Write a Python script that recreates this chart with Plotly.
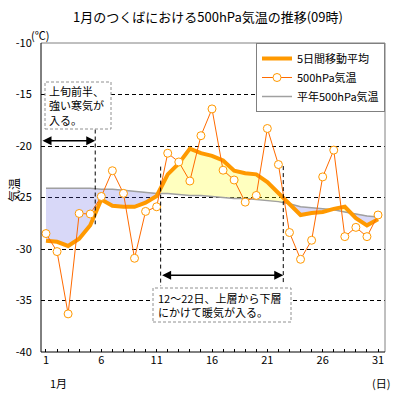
import numpy as np
import plotly.graph_objects as go

days = list(range(1, 32))
temp_500 = [-28.5, -30.25, -36.3, -26.55, -26.6, -24.9, -22.4, -24.6, -30.9, -26.35,
            -25.9, -20.7, -21.55, -23.4, -19.0, -16.4, -22.35, -23.3, -25.45, -24.8,
            -18.3, -21.8, -28.4, -31.0, -29.15, -23.0, -20.4, -28.8, -27.9, -28.8, -26.7]
ma5 = [-29.2, -29.3, -29.7, -29.0, -27.7, -25.2, -25.8, -25.9, -25.9, -25.5,
       -24.85, -22.75, -21.7, -20.25, -20.7, -20.95, -21.4, -22.4, -22.65, -22.75,
       -23.5, -24.6, -25.7, -26.7, -26.5, -26.4, -26.1, -25.9, -27.0, -27.7, -27.1]
normal = [-24.1, -24.1, -24.1, -24.1, -24.1, -24.2, -24.2, -24.3, -24.4, -24.5,
          -24.6, -24.6, -24.7, -24.8, -24.8, -24.9, -25.0, -25.1, -25.1, -25.2,
          -25.3, -25.4, -25.6, -25.9, -26.0, -26.1, -26.2, -26.4, -26.6, -26.8, -26.9]
y_ticks = [-40, -35, -30, -25, -20, -15, -10]
x_label_days = [1, 6, 11, 16, 21, 26, 31]

FONT = "Noto Sans CJK JP"
W, H = 400, 400
ML, MR, MT, MB = 41, 15, 43, 48
XR = [0.55, 31.63]
YR = [-40, -10]
PW, PH = W - ML - MR, H - MT - MB


def px_x(p):
    return (p - ML) / PW


def px_y(p):
    return (H - MB - p) / PH


fig = go.Figure()

# dense interpolation for the fills between the moving average and normal
xd = np.linspace(1, 31, 3001)
ma_d = np.interp(xd, days, ma5)
nm_d = np.interp(xd, days, normal)
upper = np.maximum(ma_d, nm_d)
lower = np.minimum(ma_d, nm_d)

fig.add_trace(go.Scatter(x=xd, y=nm_d, mode="lines", line=dict(width=0),
                         showlegend=False, hoverinfo="skip"))
fig.add_trace(go.Scatter(x=xd, y=upper, mode="lines", line=dict(width=0),
                         fill="tonexty", fillcolor="rgba(255,255,0,0.25)",
                         showlegend=False, hoverinfo="skip"))
fig.add_trace(go.Scatter(x=xd, y=nm_d, mode="lines", line=dict(width=0),
                         showlegend=False, hoverinfo="skip"))
fig.add_trace(go.Scatter(x=xd, y=lower, mode="lines", line=dict(width=0),
                         fill="tonexty", fillcolor="rgba(99,99,227,0.25)",
                         showlegend=False, hoverinfo="skip"))

fig.add_trace(go.Scatter(x=days, y=normal, mode="lines", name="平年500hPa気温",
                         legendrank=3, line=dict(color="#a0a0a0", width=1.5)))
fig.add_trace(go.Scatter(x=days, y=ma5, mode="lines", name="5日間移動平均",
                         legendrank=1, line=dict(color="#ff9900", width=4)))
fig.add_trace(go.Scatter(x=days, y=temp_500, mode="lines+markers", name="500hPa気温",
                         legendrank=2,
                         line=dict(color="#ff6a00", width=1),
                         marker=dict(symbol="circle", size=8, color="white",
                                     line=dict(color="#ff9900", width=1))))

shapes = []
# frame: gray top/right, black left/bottom
shapes.append(dict(type="line", xref="paper", yref="paper", x0=0, x1=1, y0=1, y1=1,
                   line=dict(color="#808080", width=1), layer="above"))
shapes.append(dict(type="line", xref="paper", yref="paper", x0=1, x1=1, y0=0, y1=1,
                   line=dict(color="#808080", width=1), layer="above"))
shapes.append(dict(type="line", xref="paper", yref="paper", x0=0, x1=0, y0=0, y1=1,
                   line=dict(color="black", width=1), layer="above"))
shapes.append(dict(type="line", xref="paper", yref="paper", x0=0, x1=1, y0=0, y1=0,
                   line=dict(color="black", width=1), layer="above"))

# vertical dashed markers
for xv, y0, y1 in [(5.45, -18.4, -27.6), (11.36, -22.0, -33.6), (22.44, -21.95, -33.5)]:
    shapes.append(dict(type="line", xref="x", yref="y", x0=xv, x1=xv, y0=y0, y1=y1,
                       line=dict(color="black", width=1, dash="4px,3px")))

# annotation boxes
shapes.append(dict(type="rect", xref="paper", yref="paper",
                   x0=px_x(45), x1=px_x(111), y0=px_y(129), y1=px_y(82),
                   line=dict(color="#909090", width=1, dash="3px,2px"),
                   fillcolor="white", layer="above"))
shapes.append(dict(type="rect", xref="paper", yref="paper",
                   x0=px_x(153), x1=px_x(291), y0=px_y(322), y1=px_y(288),
                   line=dict(color="#909090", width=1, dash="3px,2px"),
                   fillcolor="white", layer="above"))

annotations = [
    dict(xref="paper", yref="paper", x=px_x(47), y=px_y(105.5),
         text="上旬前半、<br>強い寒気が<br>入る。", showarrow=False, align="left",
         xanchor="left", yanchor="middle",
         font=dict(family=FONT, size=11, color="black")),
    dict(xref="paper", yref="paper", x=px_x(156), y=px_y(305),
         text="12～22日、上層から下層<br>にかけて暖気が入る。", showarrow=False, align="left",
         xanchor="left", yanchor="middle",
         font=dict(family=FONT, size=11, color="black")),
]

# double-headed arrows
for xa, xb, ya in [(XR[0], 5.45, -19.5), (11.36, 22.44, -32.55)]:
    annotations.append(dict(x=xb, y=ya, ax=xa, ay=ya, xref="x", yref="y",
                            axref="x", ayref="y", text="", showarrow=True,
                            arrowhead=2, startarrowhead=2, arrowside="end+start",
                            arrowsize=1.2, startarrowsize=1.2,
                            arrowwidth=1.5, arrowcolor="black"))

annotations += [
    dict(xref="paper", yref="paper", x=px_x(40), y=px_y(35), text="(℃)", showarrow=False,
         xanchor="center", yanchor="middle", font=dict(family=FONT, size=11, color="black")),
    dict(xref="paper", yref="paper", x=px_x(13), y=px_y(190), text="気温", showarrow=False,
         textangle=-90, xanchor="center", yanchor="middle",
         font=dict(family=FONT, size=12, color="black")),
    dict(xref="paper", yref="paper", x=px_x(48), y=px_y(383), text="1月", showarrow=False,
         xanchor="left", yanchor="middle", font=dict(family=FONT, size=11, color="black")),
    dict(xref="paper", yref="paper", x=px_x(381), y=px_y(383), text="(日)", showarrow=False,
         xanchor="center", yanchor="middle", font=dict(family=FONT, size=11, color="black")),
]

fig.update_layout(
    width=W, height=H,
    margin=dict(l=ML, r=MR, t=MT, b=MB),
    paper_bgcolor="white", plot_bgcolor="white",
    font=dict(family=FONT, size=11, color="black"),
    title=dict(text="1月のつくばにおける500hPa気温の推移(09時)", x=0.52, xanchor="center",
               y=1 - 17 / H, yanchor="middle", font=dict(family=FONT, size=13, color="black")),
    xaxis=dict(range=XR, tickmode="array", tickvals=days,
               ticktext=[str(d) if d in x_label_days else "" for d in days],
               ticks="inside", ticklen=3, tickcolor="black", showgrid=False,
               zeroline=False, showline=False, tickfont=dict(size=11)),
    yaxis=dict(range=YR, tickmode="array", tickvals=y_ticks,
               ticktext=[str(v) for v in y_ticks],
               ticks="outside", ticklen=6, tickcolor="rgba(0,0,0,0)",
               showgrid=True, gridcolor="black", gridwidth=1, griddash="4px,3px",
               zeroline=False, showline=False, tickfont=dict(size=11)),
    legend=dict(x=1, xanchor="right", y=1, yanchor="top", bgcolor="white",
                bordercolor="#808080", borderwidth=1, itemwidth=30, traceorder="normal",
                font=dict(family=FONT, size=11, color="black"), tracegroupgap=0),
    shapes=shapes, annotations=annotations,
    showlegend=True,
)

fig.write_html("out.html", config={"displayModeBar": False},
               post_script="document.body.style.margin='0';document.body.style.padding='0';")
